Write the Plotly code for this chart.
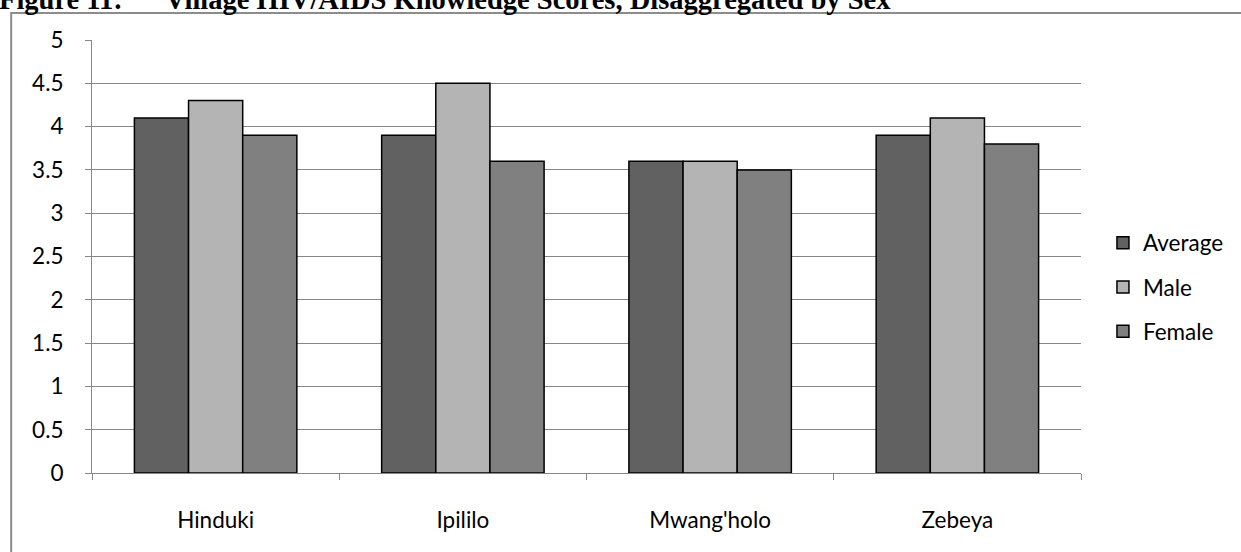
import plotly.graph_objects as go

villages = ["Hinduki", "Ipililo", "Mwang'holo", "Zebeya"]
average = [4.1, 3.9, 3.6, 3.9]
male = [4.3, 4.5, 3.6, 4.1]
female = [3.9, 3.6, 3.5, 3.8]
y_ticks = [0, 0.5, 1, 1.5, 2, 2.5, 3, 3.5, 4, 4.5, 5]
y_tick_text = ["0", "0.5", "1", "1.5", "2", "2.5", "3", "3.5", "4", "4.5", "5"]

W, H = 1241, 552
L, R, T, B = 92, 158, 40, 79
PW, PH = W - L - R, H - T - B

def px_x(x):
    return (x - L) / PW

def px_y(y):
    return (H - B - y) / PH

GRID = "#878787"
FONT = "Lato"
FSIZE = 22.5

fig = go.Figure()
series = [("Average", average, "#616161"), ("Male", male, "#b4b4b4"), ("Female", female, "#808080")]
for name, vals, col in series:
    fig.add_trace(go.Bar(
        x=villages, y=vals, name=name, legendgroup=name,
        marker=dict(color=col, line=dict(color="#000000", width=1.5)),
    ))

fig.update_layout(
    width=W, height=H,
    margin=dict(l=L, r=R, t=T, b=B, pad=0),
    paper_bgcolor="white", plot_bgcolor="white",
    barmode="group", bargap=0.343, bargroupgap=0,
    font=dict(family=FONT, size=FSIZE, color="#000000"),
    showlegend=True,
    legend=dict(
        x=px_x(1105), y=px_y(287), xanchor="left", yanchor="middle",
        font=dict(family=FONT, size=FSIZE, color="#000000"),
        tracegroupgap=12, bgcolor="rgba(0,0,0,0)",
    ),
    xaxis=dict(
        showline=True, linecolor=GRID, linewidth=1,
        ticks="outside", ticklen=6, tickcolor=GRID, tickwidth=1,
        tickson="boundaries", showgrid=False,
        ticklabelstandoff=27,
        tickfont=dict(family=FONT, size=FSIZE, color="#000000"),
    ),
    yaxis=dict(
        range=[0, 5], tickvals=y_ticks, ticktext=y_tick_text,
        showline=True, linecolor=GRID, linewidth=1,
        ticks="outside", ticklen=6, tickcolor=GRID, tickwidth=1,
        showgrid=True, gridcolor=GRID, gridwidth=1,
        zeroline=False, ticklabelstandoff=17,
        tickfont=dict(family=FONT, size=FSIZE, color="#000000"),
    ),
)

# Chart frame
fig.add_shape(type="rect", xref="paper", yref="paper",
              x0=px_x(11), x1=px_x(W + 20), y0=px_y(H + 20), y1=px_y(13),
              line=dict(color="#8c8c8c", width=2), fillcolor="rgba(0,0,0,0)", layer="below")

# Caption above the chart
title_font = dict(family="Liberation Serif", size=28.5, color="#000000")
fig.add_annotation(text="<b>Figure 11:</b>", xref="paper", yref="paper",
                   x=px_x(-3), y=px_y(0), xanchor="left", yanchor="middle",
                   showarrow=False, font=title_font)
fig.add_annotation(text="<b>Village HIV/AIDS Knowledge Scores, Disaggregated by Sex</b>",
                   xref="paper", yref="paper",
                   x=px_x(163), y=px_y(0), xanchor="left", yanchor="middle",
                   showarrow=False, font=title_font)

fig.write_html("out.html")
